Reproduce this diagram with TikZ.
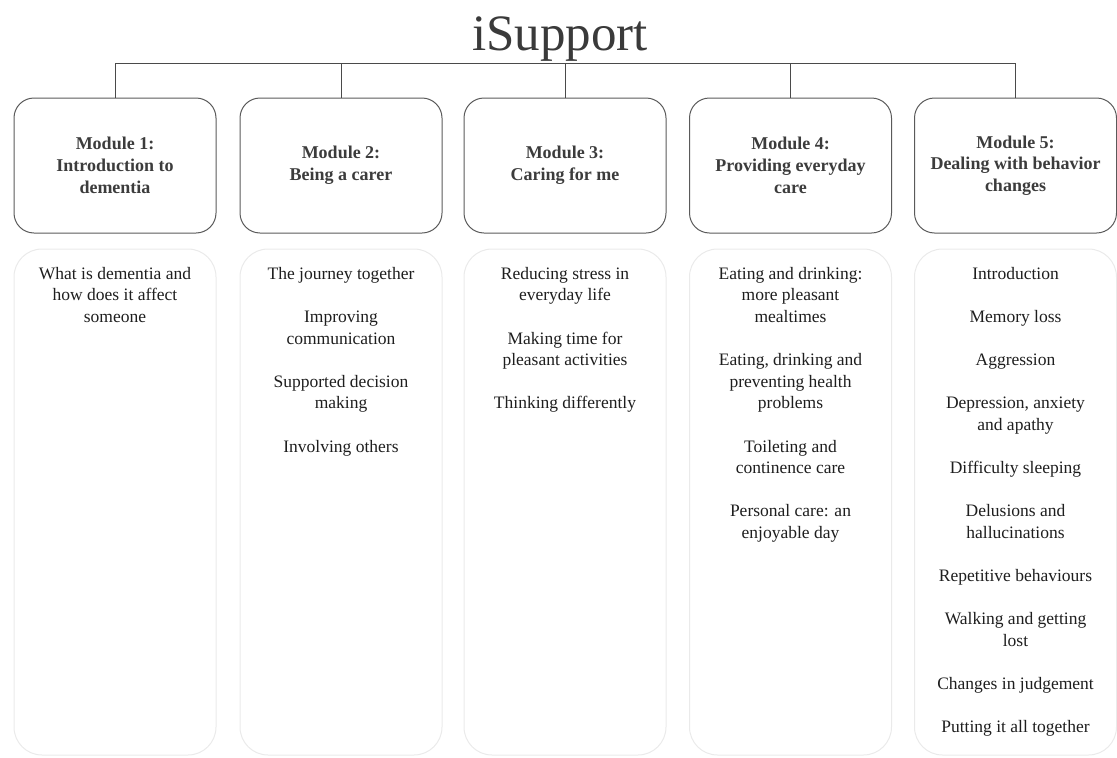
\documentclass[tikz,border=0pt]{standalone}
\usepackage{fontspec}
\setmainfont{Liberation Serif}
\definecolor{linegray}{HTML}{4A4A4A}
\definecolor{boxgray}{HTML}{5A5A5A}
\definecolor{faintgray}{HTML}{EAEAEA}
\definecolor{headtext}{HTML}{3C3C3C}
\definecolor{bodytext}{HTML}{1E1E1E}
\definecolor{titletext}{HTML}{3A3A3A}
\begin{document}
\begin{tikzpicture}[x=1pt,y=-1pt,
  titlestyle/.style={font=\fontsize{51}{60}\selectfont, text=titletext, inner sep=0},
  modbox/.style={draw=boxgray, line width=1pt, rounded corners=20pt,
    minimum width=202pt, minimum height=135pt, align=center, inner sep=0,
    font=\bfseries\fontsize{18}{21.7}\selectfont, text=headtext},
  listbox/.style={draw=faintgray, line width=1pt, rounded corners=28pt,
    minimum width=202pt, minimum height=506pt, inner sep=0},
  listtext/.style={anchor=north, align=center, inner sep=0,
    font=\fontsize{17.5}{21.6}\selectfont, text=bodytext},
  bus/.style={draw=linegray, line width=1pt}
]
\useasboundingbox (0,0) rectangle (1117,758);

\node[titlestyle, anchor=base] (title) at (560,50) {iSupport};

\node[modbox] (m1) at (115,165.5) {Module 1:\\Introduction to\\dementia};
\node[modbox] (m2) at (341,165.5) {Module 2:\\Being a carer};
\node[modbox] (m3) at (565,165.5) {Module 3:\\Caring for me};
\node[modbox] (m4) at (790.5,165.5) {Module 4:\\Providing everyday\\care};
\node[modbox] (m5) at (1015.5,165.5) {Module 5:\\Dealing with behavior\\changes};

\coordinate (busy) at (0,63);
\draw[bus] (m1.north |- busy) -- (m5.north |- busy);
\foreach \i in {1,...,5} {
  \draw[bus] (m\i.north |- busy) -- (m\i.north);
}

\node[listbox] (l1) at (115,502) {};
\node[listbox] (l2) at (341,502) {};
\node[listbox] (l3) at (565,502) {};
\node[listbox] (l4) at (790.5,502) {};
\node[listbox] (l5) at (1015.5,502) {};

\node[listtext] (t1) at (115,267) {What is dementia and\\how does it affect\\someone};
\node[listtext] (t2) at (341,267) {The journey together\\[21.6pt]Improving\\communication\\[21.6pt]Supported decision\\making\\[21.6pt]Involving others};
\node[listtext] (t3) at (565,267) {Reducing stress in\\everyday life\\[21.6pt]Making time for\\pleasant activities\\[21.6pt]Thinking differently};
\node[listtext] (t4) at (790.5,267) {Eating and drinking:\\more pleasant\\mealtimes\\[21.6pt]Eating, drinking and\\preventing health\\problems\\[21.6pt]Toileting and\\continence care\\[21.6pt]Personal care: an\\enjoyable day};
\node[listtext] (t5) at (1015.5,267) {Introduction\\[21.6pt]Memory loss\\[21.6pt]Aggression\\[21.6pt]Depression, anxiety\\and apathy\\[21.6pt]Difficulty sleeping\\[21.6pt]Delusions and\\hallucinations\\[21.6pt]Repetitive behaviours\\[21.6pt]Walking and getting\\lost\\[21.6pt]Changes in judgement\\[21.6pt]Putting it all together};
\end{tikzpicture}
\end{document}
